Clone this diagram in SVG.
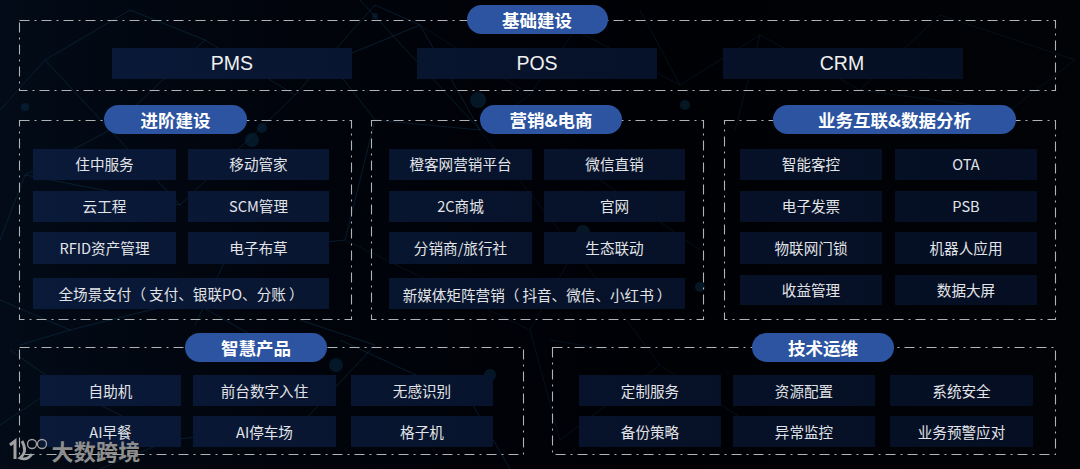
<svg xmlns="http://www.w3.org/2000/svg" width="1080" height="469" viewBox="0 0 1080 469">
<defs>
<linearGradient id="bgFade" x1="0" y1="0" x2="1" y2="0">
<stop offset="0" stop-color="#020b17"/><stop offset="0.25" stop-color="#01040c"/><stop offset="0.6" stop-color="#000105"/><stop offset="1" stop-color="#010306"/>
</linearGradient>
<linearGradient id="itemFill" gradientUnits="userSpaceOnUse" x1="0" y1="0" x2="1080" y2="0">
<stop offset="0" stop-color="#0a1a3a"/><stop offset="0.5" stop-color="#07132b"/><stop offset="1" stop-color="#050e22"/>
</linearGradient>
</defs>
<style>
text{font-family:"Noto Sans CJK SC","Noto Sans",sans-serif;text-anchor:middle;dominant-baseline:central}
.frame{fill:none;stroke:#b0b2b4;stroke-width:1.1;stroke-dasharray:10 5 2 5}
.pill{fill:#2c54a0}
.pt{fill:#fff;font-size:17.5px;font-weight:700}
.item{fill:url(#itemFill)}
.it{fill:#e2e4e8;font-size:14.6px}
.bt{fill:#f0f0f0;font-size:19.5px;font-family:"Liberation Sans",Arial,sans-serif}
.net{fill:none;stroke:#0e3550;stroke-width:.7;opacity:.7}
.net2{fill:none;stroke:#0a1e2e;stroke-width:.7;opacity:.7}
.dot{fill:#0a2c44;opacity:.5}
.wm{fill:#8e8e8e;font-size:22px;font-weight:700;letter-spacing:.3px}
.lg{fill:none;stroke:#a2a2a2}
</style>
<rect width="1080" height="469" fill="url(#bgFade)"/>
<g id="background-network">
<path class="net" d="M0 110L45 60L110 130L25 175L0 240M45 60L130 10L205 40L110 130L180 205L25 175M205 40L295 95L180 205M295 95L375 5M375 120L330 62L420 25L375 5M420 25L480 130L375 120L345 240L250 250M480 130L360 0M0 300L70 330L20 345M70 330L190 300L260 340M0 425L60 385L170 440L300 425M100 469L170 440M300 425L375 345L300 320M340 340L470 400L510 469M10 350L60 385M230 250L195 325"/>
<path class="net2" d="M420 25L530 95L575 30L680 85L640 10M530 95L480 130L575 250L530 330L345 240M680 85L760 35L860 90L940 15L1075 60M860 90L1010 110L1075 60M760 35L735 130M530 330L560 440L660 365L775 440M660 365L575 250M600 180L700 250M550 340L610 350"/>
<circle class="dot" cx="25" cy="107" r="4"/><circle class="dot" cx="329" cy="66" r="7"/><circle class="dot" cx="252" cy="140" r="7"/><circle class="dot" cx="262" cy="128" r="5"/><circle class="dot" cx="418" cy="211" r="8"/><circle class="dot" cx="478" cy="100" r="8"/><circle class="dot" cx="375" cy="16" r="3"/><circle class="dot" cx="630" cy="165" r="8"/><circle class="dot" cx="583" cy="232" r="7"/><circle class="dot" cx="336" cy="365" r="7"/><circle class="dot" cx="490" cy="375" r="6"/><circle class="dot" cx="245" cy="245" r="6"/><circle class="dot" cx="273" cy="245" r="5"/><circle class="dot" cx="685" cy="105" r="5"/><circle class="dot" cx="700" cy="287" r="5"/>
</g>
<g id="connectors"></g>
<g id="group-basic">
<rect class="frame" x="19.5" y="20.5" width="1036" height="70"/>
<rect class="pill" x="467" y="5" width="141" height="29" rx="14.5"/><text class="pt" x="537" y="19">基础建设</text>
<g id="pms"><rect class="item" x="112" y="48" width="240" height="31"/><text class="bt" x="232" y="63">PMS</text></g>
<g id="pos"><rect class="item" x="417" y="48" width="240" height="31"/><text class="bt" x="537" y="63">POS</text></g>
<g id="crm"><rect class="item" x="723" y="48" width="240" height="31"/><text class="bt" x="842" y="63">CRM</text></g>
</g>
<g id="group-advanced">
<rect class="frame" x="19.5" y="120.5" width="332" height="199"/>
<rect class="pill" x="104" y="105" width="143" height="29" rx="14.5"/><text class="pt" x="175.5" y="119">进阶建设</text>
<g id="a1"><rect class="item" x="33" y="149" width="143" height="31"/><text class="it" x="104.500" y="163.500">住中服务</text></g>
<g id="a2"><rect class="item" x="188" y="149" width="141" height="31"/><text class="it" x="258.500" y="163.500">移动管家</text></g>
<g id="a3"><rect class="item" x="33" y="191" width="143" height="31"/><text class="it" x="104.500" y="205.500">云工程</text></g>
<g id="a4"><rect class="item" x="188" y="191" width="141" height="31"/><text class="it" x="258.500" y="205.500">SCM管理</text></g>
<g id="a5"><rect class="item" x="33" y="232" width="143" height="32"/><text class="it" x="104.500" y="247">RFID资产管理</text></g>
<g id="a6"><rect class="item" x="188" y="232" width="141" height="32"/><text class="it" x="258.500" y="247">电子布草</text></g>
<g id="a7"><rect class="item" x="33" y="278" width="296" height="31"/><text class="it" x="181" y="293">全场景支付（<tspan dx="3">支付、银联PO、分账</tspan><tspan dx="3">）</tspan></text></g>
</g>
<g id="group-marketing">
<rect class="frame" x="371.5" y="120.5" width="332" height="199"/>
<rect class="pill" x="480" y="105" width="142" height="29" rx="14.5"/><text class="pt" x="551" y="119">营销&amp;电商</text>
<g id="m1"><rect class="item" x="389" y="149" width="143" height="31"/><text class="it" x="460.500" y="163.500">橙客网营销平台</text></g>
<g id="m2"><rect class="item" x="544" y="149" width="141" height="31"/><text class="it" x="614.500" y="163.500">微信直销</text></g>
<g id="m3"><rect class="item" x="389" y="191" width="143" height="31"/><text class="it" x="460.500" y="205.500">2C商城</text></g>
<g id="m4"><rect class="item" x="544" y="191" width="141" height="31"/><text class="it" x="614.500" y="205.500">官网</text></g>
<g id="m5"><rect class="item" x="389" y="232" width="143" height="32"/><text class="it" x="460.500" y="247">分销商/旅行社</text></g>
<g id="m6"><rect class="item" x="544" y="232" width="141" height="32"/><text class="it" x="614.500" y="247">生态联动</text></g>
<g id="m7"><rect class="item" x="389" y="278" width="296" height="31"/><text class="it" x="537" y="294">新媒体矩阵营销（<tspan dx="3">抖音、微信、小红书</tspan><tspan dx="3">）</tspan></text></g>
</g>
<g id="group-business">
<rect class="frame" x="724.5" y="120.5" width="331" height="199"/>
<rect class="pill" x="773" y="105" width="243" height="29" rx="14.5"/><text class="pt" x="894.5" y="119">业务互联&amp;数据分析</text>
<g id="b1"><rect class="item" x="740" y="149" width="142" height="31"/><text class="it" x="811" y="163.500">智能客控</text></g>
<g id="b2"><rect class="item" x="895" y="149" width="142" height="31"/><text class="it" x="966" y="163.500">OTA</text></g>
<g id="b3"><rect class="item" x="740" y="191" width="142" height="31"/><text class="it" x="811" y="205.500">电子发票</text></g>
<g id="b4"><rect class="item" x="895" y="191" width="142" height="31"/><text class="it" x="966" y="205.500">PSB</text></g>
<g id="b5"><rect class="item" x="740" y="232" width="142" height="32"/><text class="it" x="811" y="247">物联网门锁</text></g>
<g id="b6"><rect class="item" x="895" y="232" width="142" height="32"/><text class="it" x="966" y="247">机器人应用</text></g>
<g id="b7"><rect class="item" x="740" y="275" width="142" height="30"/><text class="it" x="811" y="289">收益管理</text></g>
<g id="b8"><rect class="item" x="895" y="275" width="142" height="30"/><text class="it" x="966" y="289">数据大屏</text></g>
</g>
<g id="group-smart">
<rect class="frame" x="19.5" y="347.5" width="504" height="107"/>
<rect class="pill" x="185" y="333" width="142" height="29" rx="14.5"/><text class="pt" x="256" y="347">智慧产品</text>
<g id="s1"><rect class="item" x="40" y="375" width="141" height="31"/><text class="it" x="110.500" y="390">自助机</text></g>
<g id="s2"><rect class="item" x="193" y="375" width="143" height="31"/><text class="it" x="264.500" y="390">前台数字入住</text></g>
<g id="s3"><rect class="item" x="351" y="375" width="142" height="31"/><text class="it" x="422" y="390">无感识别</text></g>
<g id="s4"><rect class="item" x="40" y="416" width="141" height="31"/><text class="it" x="110.500" y="431">AI早餐</text></g>
<g id="s5"><rect class="item" x="193" y="416" width="143" height="31"/><text class="it" x="264.500" y="431">AI停车场</text></g>
<g id="s6"><rect class="item" x="351" y="416" width="142" height="31"/><text class="it" x="422" y="431">格子机</text></g>
</g>
<g id="group-ops">
<rect class="frame" x="552.5" y="347.5" width="503" height="107"/>
<rect class="pill" x="752" y="333" width="142" height="29" rx="14.5"/><text class="pt" x="823" y="347">技术运维</text>
<g id="o1"><rect class="item" x="579" y="375" width="142" height="31"/><text class="it" x="650" y="390">定制服务</text></g>
<g id="o2"><rect class="item" x="733" y="375" width="142" height="31"/><text class="it" x="804" y="390">资源配置</text></g>
<g id="o3"><rect class="item" x="890" y="375" width="143" height="31"/><text class="it" x="961.500" y="390">系统安全</text></g>
<g id="o4"><rect class="item" x="579" y="416" width="142" height="31"/><text class="it" x="650" y="431">备份策略</text></g>
<g id="o5"><rect class="item" x="733" y="416" width="142" height="31"/><text class="it" x="804" y="431">异常监控</text></g>
<g id="o6"><rect class="item" x="890" y="416" width="143" height="31"/><text class="it" x="961.500" y="431">业务预警应对</text></g>
</g>
<g id="watermark">
<path class="lg" d="M10 445L15 441V459" stroke-width="3"/>
<path class="lg" d="M22 441Q28 452 20 458Q27 461 32 454" stroke-width="2.800"/>
<circle class="lg" cx="32" cy="444" r="4.500" stroke-width="1.300"/><circle class="lg" cx="42" cy="444" r="4.500" stroke-width="1.300"/>
<text class="wm" x="96" y="450">大数跨境</text>
</g>
</svg>
